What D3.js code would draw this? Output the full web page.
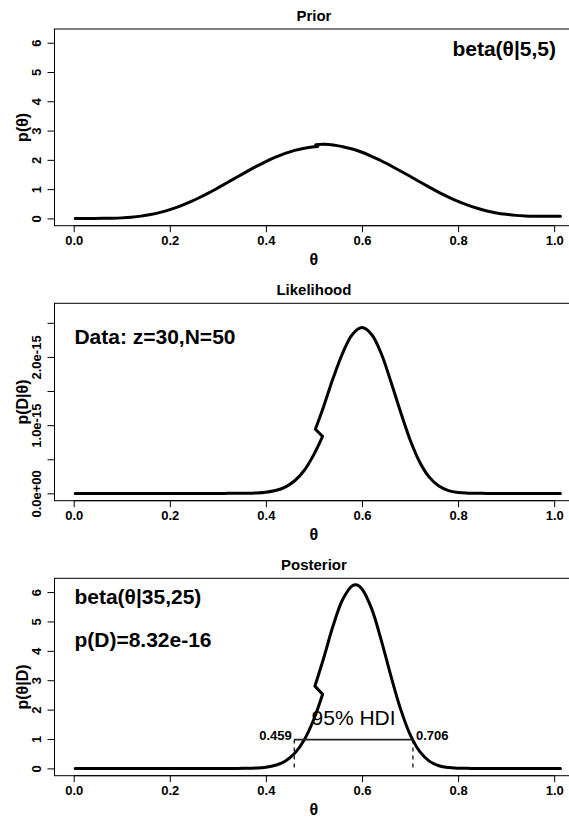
<!DOCTYPE html>
<html>
<head>
<meta charset="utf-8">
<script src="https://cdn.jsdelivr.net/npm/d3@7"></script>
<style>
  html, body { margin: 0; padding: 0; background: #fff; }
  svg { display: block; font-family: "Liberation Sans", Arial, Helvetica, sans-serif; }
</style>
</head>
<body>
<div id="chart"></div>
<script>
// ---------- data ----------
const panelTitles = ["Prior", "Likelihood", "Posterior"];
const yAxisTitles = ["p(θ)", "p(D|θ)", "p(θ|D)"];
const xTickValues = [0, 0.2, 0.4, 0.6, 0.8, 1.0];
const xTickLabels = ["0.0", "0.2", "0.4", "0.6", "0.8", "1.0"];
const densityTickValues = [0, 1, 2, 3, 4, 5, 6];
const densityTickLabels = ["0", "1", "2", "3", "4", "5", "6"];
const likeTickValues = [0, 0.5e-15, 1.0e-15, 1.5e-15, 2.0e-15, 2.5e-15];
const likeTickLabels = ["0.0e+00", "", "1.0e-15", "", "2.0e-15", ""];

// Prior curve (theta, density) as plotted, including the small kink near 0.5
const priorTheta = [0.003, 0.02, 0.04, 0.06, 0.08, 0.10, 0.12, 0.14, 0.16, 0.18, 0.20, 0.22, 0.24, 0.26, 0.28,
  0.30, 0.32, 0.34, 0.36, 0.38, 0.40, 0.42, 0.44, 0.46, 0.48, 0.50, 0.508,
  0.504, 0.52, 0.54, 0.56, 0.58, 0.60, 0.62, 0.64, 0.66, 0.68, 0.70, 0.72, 0.74, 0.76, 0.78,
  0.80, 0.82, 0.84, 0.86, 0.88, 0.90, 0.92, 0.94, 0.96, 0.98, 1.00, 1.013];
const priorDensity = [0, 0, 0.0001, 0.0014, 0.0064, 0.0185, 0.0413, 0.0783, 0.132, 0.206, 0.299, 0.413, 0.546, 0.697, 0.863,
  1.041, 1.225, 1.413, 1.598, 1.775, 1.941, 2.090, 2.219, 2.322, 2.399, 2.445, 2.455,
  2.52, 2.53, 2.51, 2.45, 2.37, 2.26, 2.12, 1.97, 1.80, 1.62, 1.44, 1.25, 1.07, 0.89, 0.73,
  0.58, 0.455, 0.346, 0.256, 0.188, 0.14, 0.104, 0.084, 0.074, 0.07, 0.07, 0.07];

// Likelihood curve (theta, p(D|theta))
const likeTheta = [0.003, 0.10, 0.20, 0.30, 0.32, 0.34, 0.36, 0.38, 0.40, 0.42, 0.44, 0.46, 0.48, 0.50, 0.518,
  0.503, 0.52, 0.54, 0.56, 0.58, 0.60, 0.62, 0.64, 0.66, 0.68, 0.70, 0.72, 0.74, 0.76, 0.78,
  0.80, 0.82, 0.84, 0.86, 0.88, 0.95, 1.013];
const likeValue = [0, 0, 0, 0, 0.0002e-15, 0.0006e-15, 0.002e-15, 0.0065e-15, 0.0174e-15, 0.0421e-15, 0.0925e-15, 0.185e-15, 0.339e-15, 0.572e-15, 0.835e-15,
  0.94e-15, 1.27e-15, 1.69e-15, 2.06e-15, 2.33e-15, 2.43e-15, 2.33e-15, 2.05e-15, 1.64e-15, 1.20e-15, 0.787e-15, 0.461e-15, 0.238e-15, 0.107e-15, 0.041e-15,
  0.013e-15, 0.0033e-15, 0.0007e-15, 0.0001e-15, 0, 0, 0];

// Posterior curve (theta, density)
const postTheta = [0.003, 0.10, 0.20, 0.30, 0.34, 0.36, 0.38, 0.40, 0.42, 0.44, 0.46, 0.48, 0.50, 0.518,
  0.502, 0.52, 0.54, 0.56, 0.58, 0.59, 0.60, 0.62, 0.64, 0.66, 0.68, 0.70, 0.72, 0.74, 0.76, 0.78,
  0.80, 0.82, 0.84, 0.90, 1.013];
const postDensity = [0, 0, 0, 0, 0.0003, 0.0041, 0.0139, 0.0406, 0.106, 0.246, 0.516, 0.977, 1.680, 2.52,
  2.80, 3.74, 4.86, 5.755, 6.215, 6.24, 6.104, 5.436, 4.367, 3.155, 2.034, 1.157, 0.576, 0.247, 0.089, 0.027,
  0.006, 0.001, 0, 0, 0];

const priorLabel = "beta(θ|5,5)";
const dataLabel = "Data: z=30,N=50";
const postLabel = "beta(θ|35,25)";
const evidenceLabel = "p(D)=8.32e-16";
const hdiBounds = [0.459, 0.706];
const hdiBoundLabels = ["0.459", "0.706"];
const hdiHeight = 0.98;
const hdiLabel = "95% HDI";

// ---------- layout ----------
const W = 569, H = 817;
const boxLeft = 54.5, boxRight = 573.4;
const panelBoxes = [
  { top: 29, bottom: 225.7 },
  { top: 303.3, bottom: 500.7 },
  { top: 578.3, bottom: 775.7 }
];

const svg = d3.select("#chart").append("svg").attr("width", W).attr("height", H);

const x = d3.scaleLinear().domain([-0.04, 1.04]).range([boxLeft, boxRight]);

const densityDomain = [-0.2488, 6.4688];
const likeDomain = [-0.1072e-15, 2.786e-15];

// smooth pieces, joined by a straight segment where the grid steps backwards (the kink)
function curvePath(xs, ys, yScale) {
  let k = xs.findIndex((v, i) => i > 0 && v < xs[i - 1]);
  const pts = xs.map((v, i) => [x(v), yScale(ys[i])]);
  const gen = d3.line().curve(d3.curveCatmullRom.alpha(0.5));
  if (k < 0) return gen(pts);
  return gen(pts.slice(0, k)) + gen(pts.slice(k)).replace(/^M/, "L");
}

function drawPanel(i, yDomain, yTicks, yLabels) {
  const pb = panelBoxes[i];
  const y = d3.scaleLinear().domain(yDomain).range([pb.bottom, pb.top]);
  const g = svg.append("g");

  g.append("rect").attr("x", boxLeft).attr("y", pb.top)
    .attr("width", boxRight - boxLeft).attr("height", pb.bottom - pb.top)
    .attr("fill", "none").attr("stroke", "#000").attr("stroke-width", 1);

  const xAxis = d3.axisBottom(x).tickValues(xTickValues)
    .tickFormat((d, k) => xTickLabels[k]).tickSize(6.5).tickSizeOuter(0).tickPadding(4);
  const gx = g.append("g").attr("transform", `translate(0,${pb.bottom})`).call(xAxis);
  gx.select(".domain").attr("d", `M${x(0)},0H${x(1)}`);
  gx.selectAll("text").attr("font-size", 13).attr("font-weight", "bold")
    .attr("font-family", "Liberation Sans, Arial, sans-serif").attr("fill", "#000");
  gx.selectAll("line, path").attr("stroke", "#000");

  const yAxis = d3.axisLeft(y).tickValues(yTicks)
    .tickFormat((d, k) => yLabels[k]).tickSize(7).tickSizeOuter(0);
  const gy = g.append("g").attr("transform", `translate(${boxLeft},0)`).call(yAxis);
  gy.select(".domain").attr("d", `M0,${y(yTicks[0])}V${y(yTicks[yTicks.length - 1])}`);
  gy.selectAll("line, path").attr("stroke", "#000");
  gy.selectAll("text")
    .attr("x", 0).attr("y", -(boxLeft - 36)).attr("dy", "0.35em")
    .attr("text-anchor", "middle")
    .attr("transform", "rotate(-90)")
    .attr("font-size", 13).attr("font-weight", "bold")
    .attr("font-family", "Liberation Sans, Arial, sans-serif").attr("fill", "#000");

  g.append("text").attr("x", (boxLeft + boxRight) / 2).attr("y", pb.top - 13.5)
    .attr("dy", "0.35em").attr("text-anchor", "middle")
    .attr("font-size", 15).attr("font-weight", "bold").text(panelTitles[i]);

  g.append("text").attr("x", (boxLeft + boxRight) / 2).attr("y", pb.bottom + 34)
    .attr("dy", "0.35em").attr("text-anchor", "middle")
    .attr("font-size", 16).attr("font-weight", "bold").text("θ");

  const yc = i === 2 ? (pb.top + pb.bottom) / 2 + 10 : (pb.top + pb.bottom) / 2;
  g.append("text").attr("transform", `translate(22.5,${yc}) rotate(-90)`)
    .attr("dy", "0.35em").attr("text-anchor", "middle")
    .attr("font-size", 16).attr("font-weight", "bold").text(yAxisTitles[i]);

  return { g, y };
}

function drawCurve(g, xs, ys, y) {
  g.append("path").attr("d", curvePath(xs, ys, y))
    .attr("fill", "none").attr("stroke", "#000").attr("stroke-width", 3)
    .attr("stroke-linejoin", "round").attr("stroke-linecap", "round");
}

// Prior
{
  const { g, y } = drawPanel(0, densityDomain, densityTickValues, densityTickLabels);
  drawCurve(g, priorTheta, priorDensity, y);
  g.append("text").attr("x", 556).attr("y", 48.5).attr("dy", "0.35em")
    .attr("text-anchor", "end").attr("font-size", 21).attr("font-weight", "bold").text(priorLabel);
}

// Likelihood
{
  const { g, y } = drawPanel(1, likeDomain, likeTickValues, likeTickLabels);
  drawCurve(g, likeTheta, likeValue, y);
  g.append("text").attr("x", x(0) + 0.7).attr("y", 336.7).attr("dy", "0.35em")
    .attr("text-anchor", "start").attr("font-size", 21).attr("font-weight", "bold").text(dataLabel);
}

// Posterior
{
  const { g, y } = drawPanel(2, densityDomain, densityTickValues, densityTickLabels);
  drawCurve(g, postTheta, postDensity, y);
  g.append("text").attr("x", x(0) + 0.7).attr("y", 596.7).attr("dy", "0.35em")
    .attr("text-anchor", "start").attr("font-size", 21).attr("font-weight", "bold").text(postLabel);
  g.append("text").attr("x", x(0) + 0.7).attr("y", 640).attr("dy", "0.35em")
    .attr("text-anchor", "start").attr("font-size", 21).attr("font-weight", "bold").text(evidenceLabel);

  g.append("line").attr("x1", x(hdiBounds[0])).attr("x2", x(hdiBounds[1]))
    .attr("y1", y(hdiHeight)).attr("y2", y(hdiHeight))
    .attr("stroke", "#222").attr("stroke-width", 1.8);
  hdiBounds.forEach((b) => {
    g.append("line").attr("x1", x(b)).attr("x2", x(b))
      .attr("y1", y(hdiHeight)).attr("y2", y(-0.05))
      .attr("stroke", "#000").attr("stroke-width", 1.2).attr("stroke-dasharray", "4,4");
  });
  g.append("text").attr("x", x(hdiBounds[0]) - 2.5).attr("y", y(hdiHeight))
    .attr("text-anchor", "end").attr("font-size", 13).attr("font-weight", "bold").text(hdiBoundLabels[0]);
  g.append("text").attr("x", x(hdiBounds[1]) + 3).attr("y", y(hdiHeight))
    .attr("text-anchor", "start").attr("font-size", 13).attr("font-weight", "bold").text(hdiBoundLabels[1]);
  g.append("text").attr("x", (x(hdiBounds[0]) + x(hdiBounds[1])) / 2).attr("y", 717.3).attr("dy", "0.35em")
    .attr("text-anchor", "middle").attr("font-size", 21).text(hdiLabel);
}
</script>
</body>
</html>
